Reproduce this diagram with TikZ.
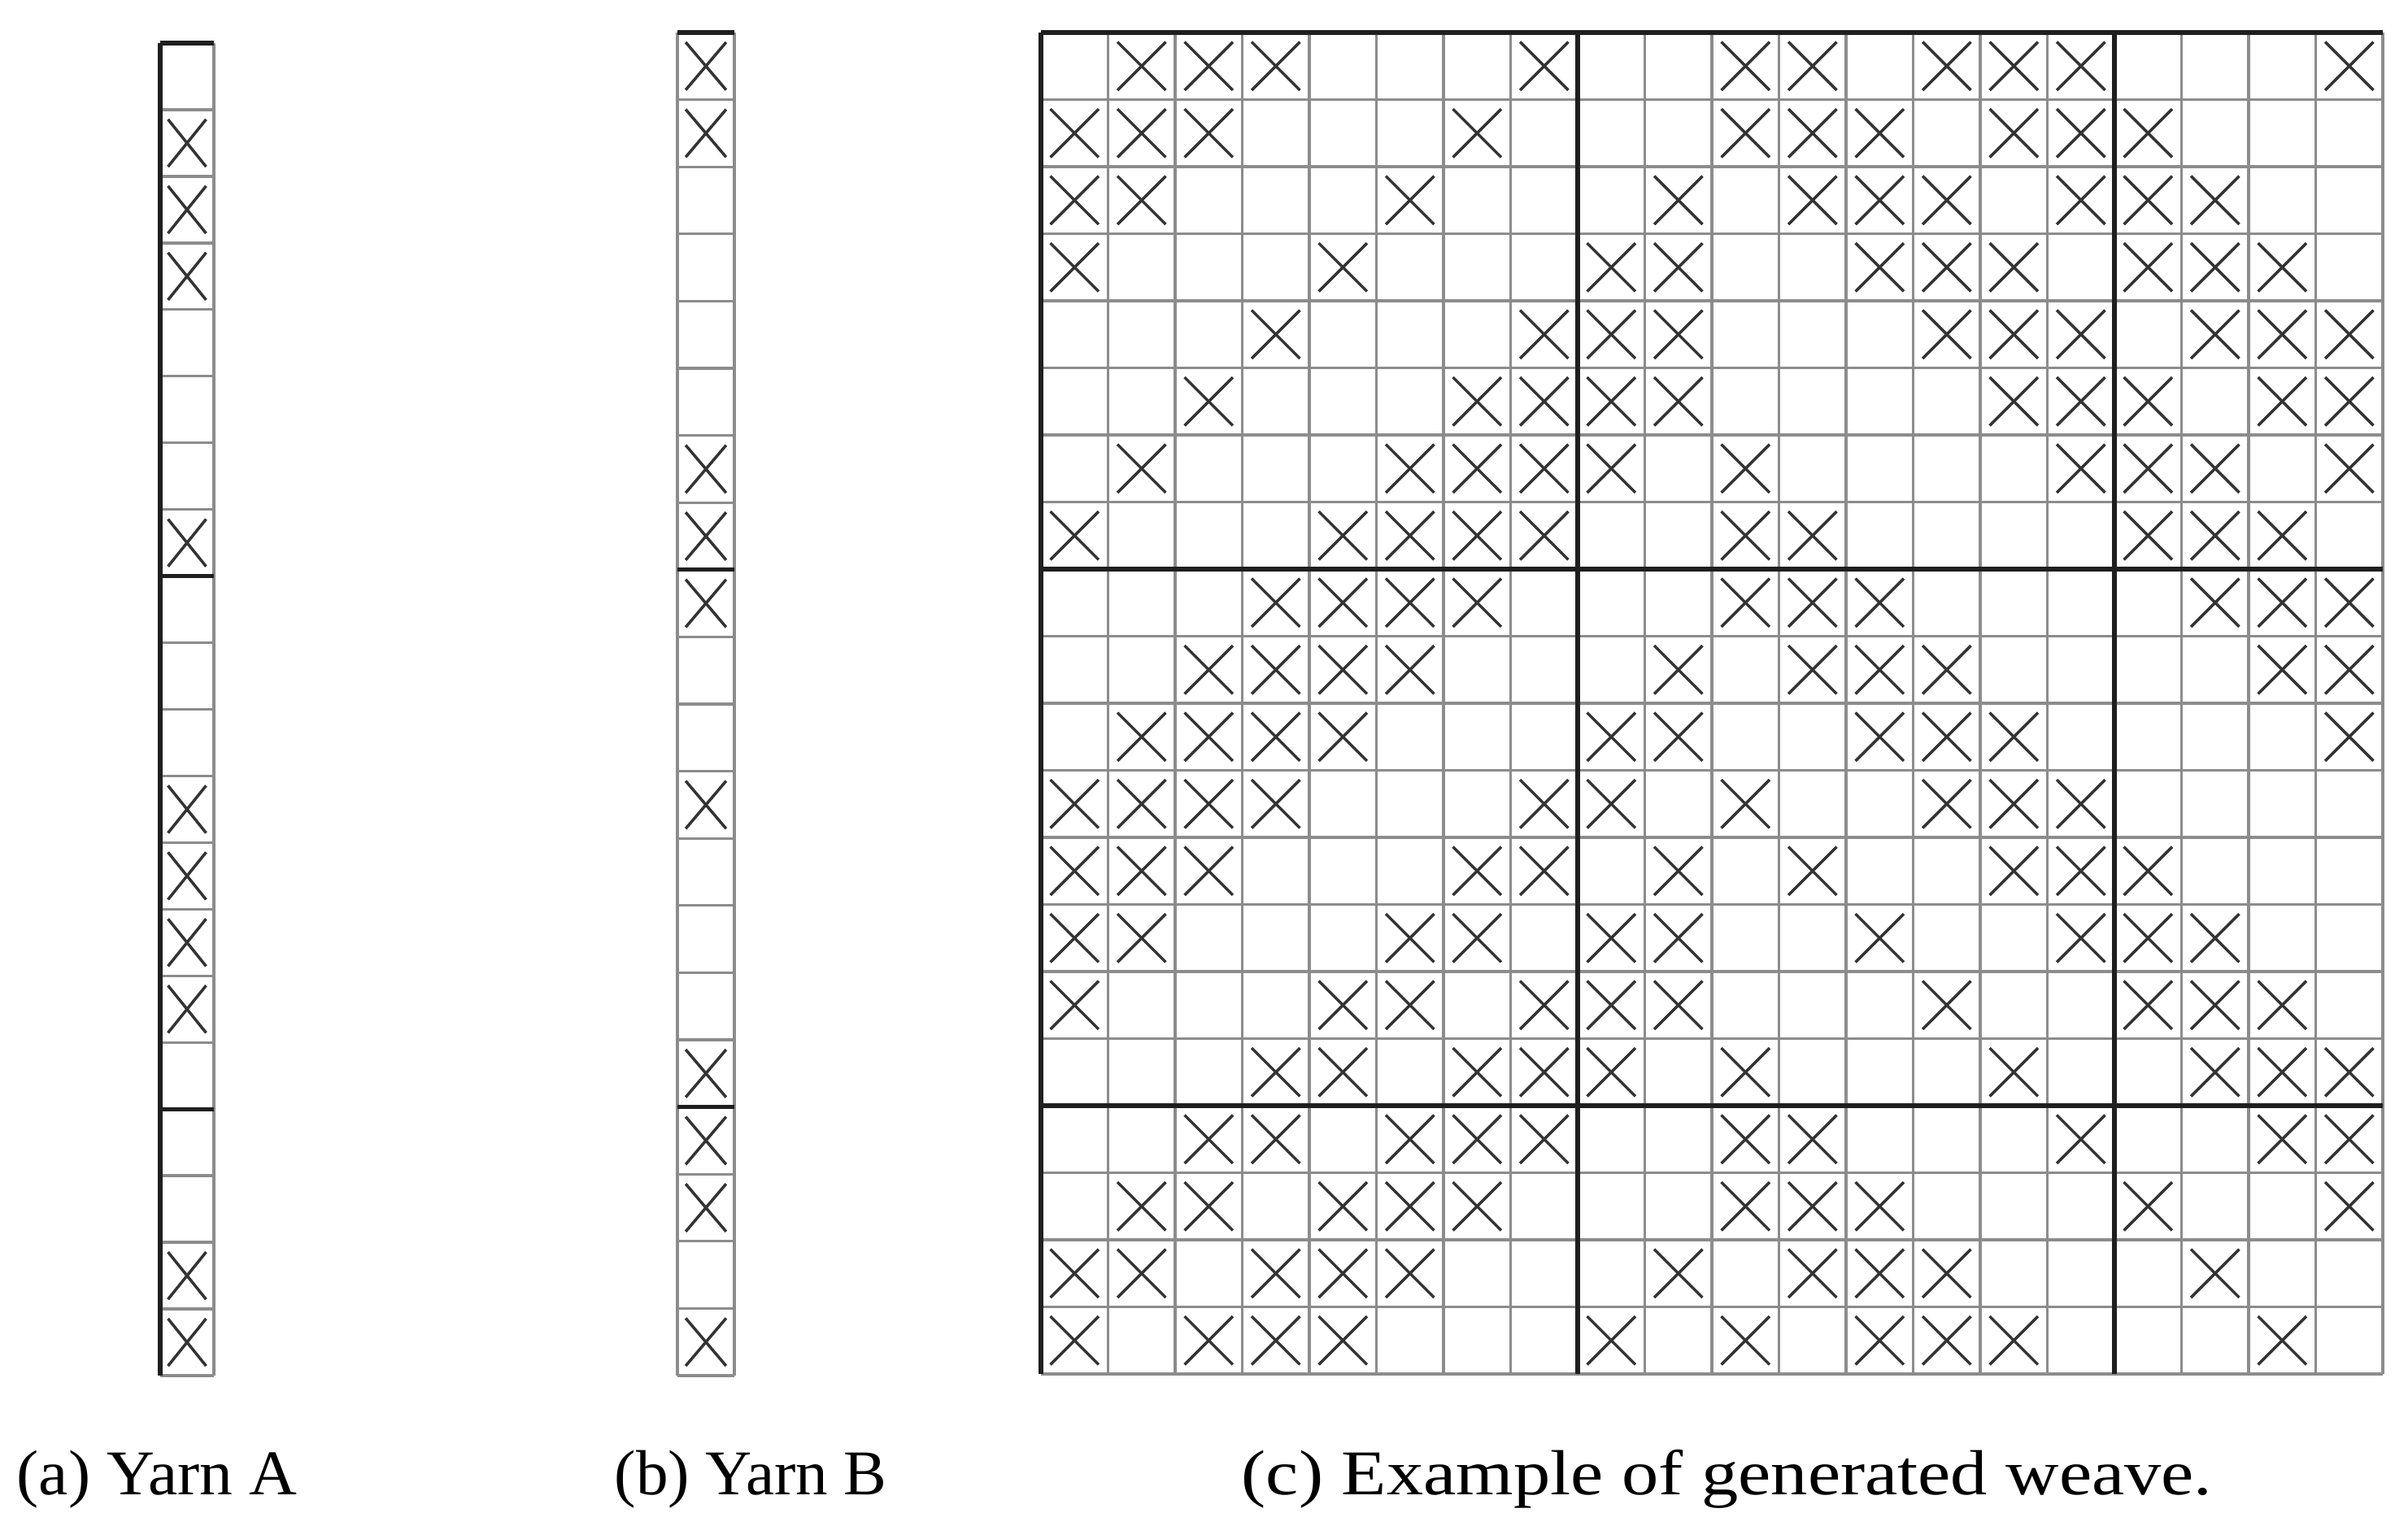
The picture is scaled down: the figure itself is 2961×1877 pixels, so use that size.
\documentclass[tikz,border=0pt]{standalone}
\usepackage{graphicx}
\usepackage{fontspec}
\setmainfont{Liberation Serif}
\tikzset{
  gridline/.style={draw=black!45, line width=0.95pt},
  heavyline/.style={draw=black!88, line width=1.5pt},
  xmark/.style={draw=black!80, line width=1.0pt},
  captext/.style={font=\fontsize{22.3}{26}\selectfont, anchor=base west, inner sep=0pt},
}
\begin{document}
\begin{tikzpicture}[x=0.1mm, y=-0.1mm]
\useasboundingbox (0,0) rectangle (2961,1877);
% ---------- (c) weave grid ----------
\def\gx{1280}\def\gy{40}\def\gs{82.5}
\foreach \i in {0,...,20}{
  \draw[gridline] (\gx+\i*\gs,\gy) -- (\gx+\i*\gs,\gy+20*\gs);
  \draw[gridline] (\gx,\gy+\i*\gs) -- (\gx+20*\gs,\gy+\i*\gs);
}
\foreach \i in {0,8,16}{
  \draw[heavyline] (\gx+\i*\gs,\gy) -- (\gx+\i*\gs,\gy+20*\gs);
  \draw[heavyline] (\gx,\gy+\i*\gs) -- (\gx+20*\gs,\gy+\i*\gs);
}
\foreach \r/\cols in {
  1/{2,3,4,8,11,12,14,15,16,20},
  2/{1,2,3,7,11,12,13,15,16,17},
  3/{1,2,6,10,12,13,14,16,17,18},
  4/{1,5,9,10,13,14,15,17,18,19},
  5/{4,8,9,10,14,15,16,18,19,20},
  6/{3,7,8,9,10,15,16,17,19,20},
  7/{2,6,7,8,9,11,16,17,18,20},
  8/{1,5,6,7,8,11,12,17,18,19},
  9/{4,5,6,7,11,12,13,18,19,20},
  10/{3,4,5,6,10,12,13,14,19,20},
  11/{2,3,4,5,9,10,13,14,15,20},
  12/{1,2,3,4,8,9,11,14,15,16},
  13/{1,2,3,7,8,10,12,15,16,17},
  14/{1,2,6,7,9,10,13,16,17,18},
  15/{1,5,6,8,9,10,14,17,18,19},
  16/{4,5,7,8,9,11,15,18,19,20},
  17/{3,4,6,7,8,11,12,16,19,20},
  18/{2,3,5,6,7,11,12,13,17,20},
  19/{1,2,4,5,6,10,12,13,14,18},
  20/{1,3,4,5,9,11,13,14,15,19}}{
  \foreach \c in \cols{
    \draw[xmark] (\gx+\c*\gs-0.5*\gs-0.36*\gs,\gy+\r*\gs-0.5*\gs-0.36*\gs) -- (\gx+\c*\gs-0.5*\gs+0.36*\gs,\gy+\r*\gs-0.5*\gs+0.36*\gs);
    \draw[xmark] (\gx+\c*\gs-0.5*\gs-0.36*\gs,\gy+\r*\gs-0.5*\gs+0.36*\gs) -- (\gx+\c*\gs-0.5*\gs+0.36*\gs,\gy+\r*\gs-0.5*\gs-0.36*\gs);
  }
}
% ---------- (a) Yarn A ----------
\def\ax{197}\def\ay{53}\def\aw{66}\def\ah{81.95}
\draw[gridline] (\ax+\aw,\ay) -- (\ax+\aw,\ay+20*\ah);
\foreach \i in {0,...,20}{
  \draw[gridline] (\ax,\ay+\i*\ah) -- (\ax+\aw,\ay+\i*\ah);
}
\draw[heavyline] (\ax,\ay) -- (\ax,\ay+20*\ah);
\foreach \i in {0,8,16}{
  \draw[heavyline] (\ax,\ay+\i*\ah) -- (\ax+\aw,\ay+\i*\ah);
}
\foreach \r in {2,3,4,8,12,13,14,15,19,20}{
  \draw[xmark] (\ax+0.145*\aw,\ay+\r*\ah-0.5*\ah-0.355*\ah) -- (\ax+0.855*\aw,\ay+\r*\ah-0.5*\ah+0.355*\ah);
  \draw[xmark] (\ax+0.145*\aw,\ay+\r*\ah-0.5*\ah+0.355*\ah) -- (\ax+0.855*\aw,\ay+\r*\ah-0.5*\ah-0.355*\ah);
}
% ---------- (b) Yarn B ----------
\def\bx{833}\def\by{40}\def\bw{70}\def\bh{82.6}
\draw[gridline] (\bx,\by) -- (\bx,\by+20*\bh);
\draw[gridline] (\bx+\bw,\by) -- (\bx+\bw,\by+20*\bh);
\foreach \i in {0,...,20}{
  \draw[gridline] (\bx,\by+\i*\bh) -- (\bx+\bw,\by+\i*\bh);
}
\foreach \i in {0,8,16}{
  \draw[heavyline] (\bx,\by+\i*\bh) -- (\bx+\bw,\by+\i*\bh);
}
\foreach \r in {1,2,7,8,9,12,16,17,18,20}{
  \draw[xmark] (\bx+0.145*\bw,\by+\r*\bh-0.5*\bh-0.355*\bh) -- (\bx+0.855*\bw,\by+\r*\bh-0.5*\bh+0.355*\bh);
  \draw[xmark] (\bx+0.145*\bw,\by+\r*\bh-0.5*\bh+0.355*\bh) -- (\bx+0.855*\bw,\by+\r*\bh-0.5*\bh-0.355*\bh);
}
% ---------- captions ----------
\node[captext] (capA) at (20,1838) {\scalebox{1.04}[1]{(a) Yarn A}};
\node[captext] (capB) at (755,1838) {\scalebox{1.01}[1]{(b) Yarn B}};
\node[captext] (capC) at (1526,1838) {\scalebox{1.155}[1]{(c) Example of generated weave.}};
\end{tikzpicture}
\end{document}
